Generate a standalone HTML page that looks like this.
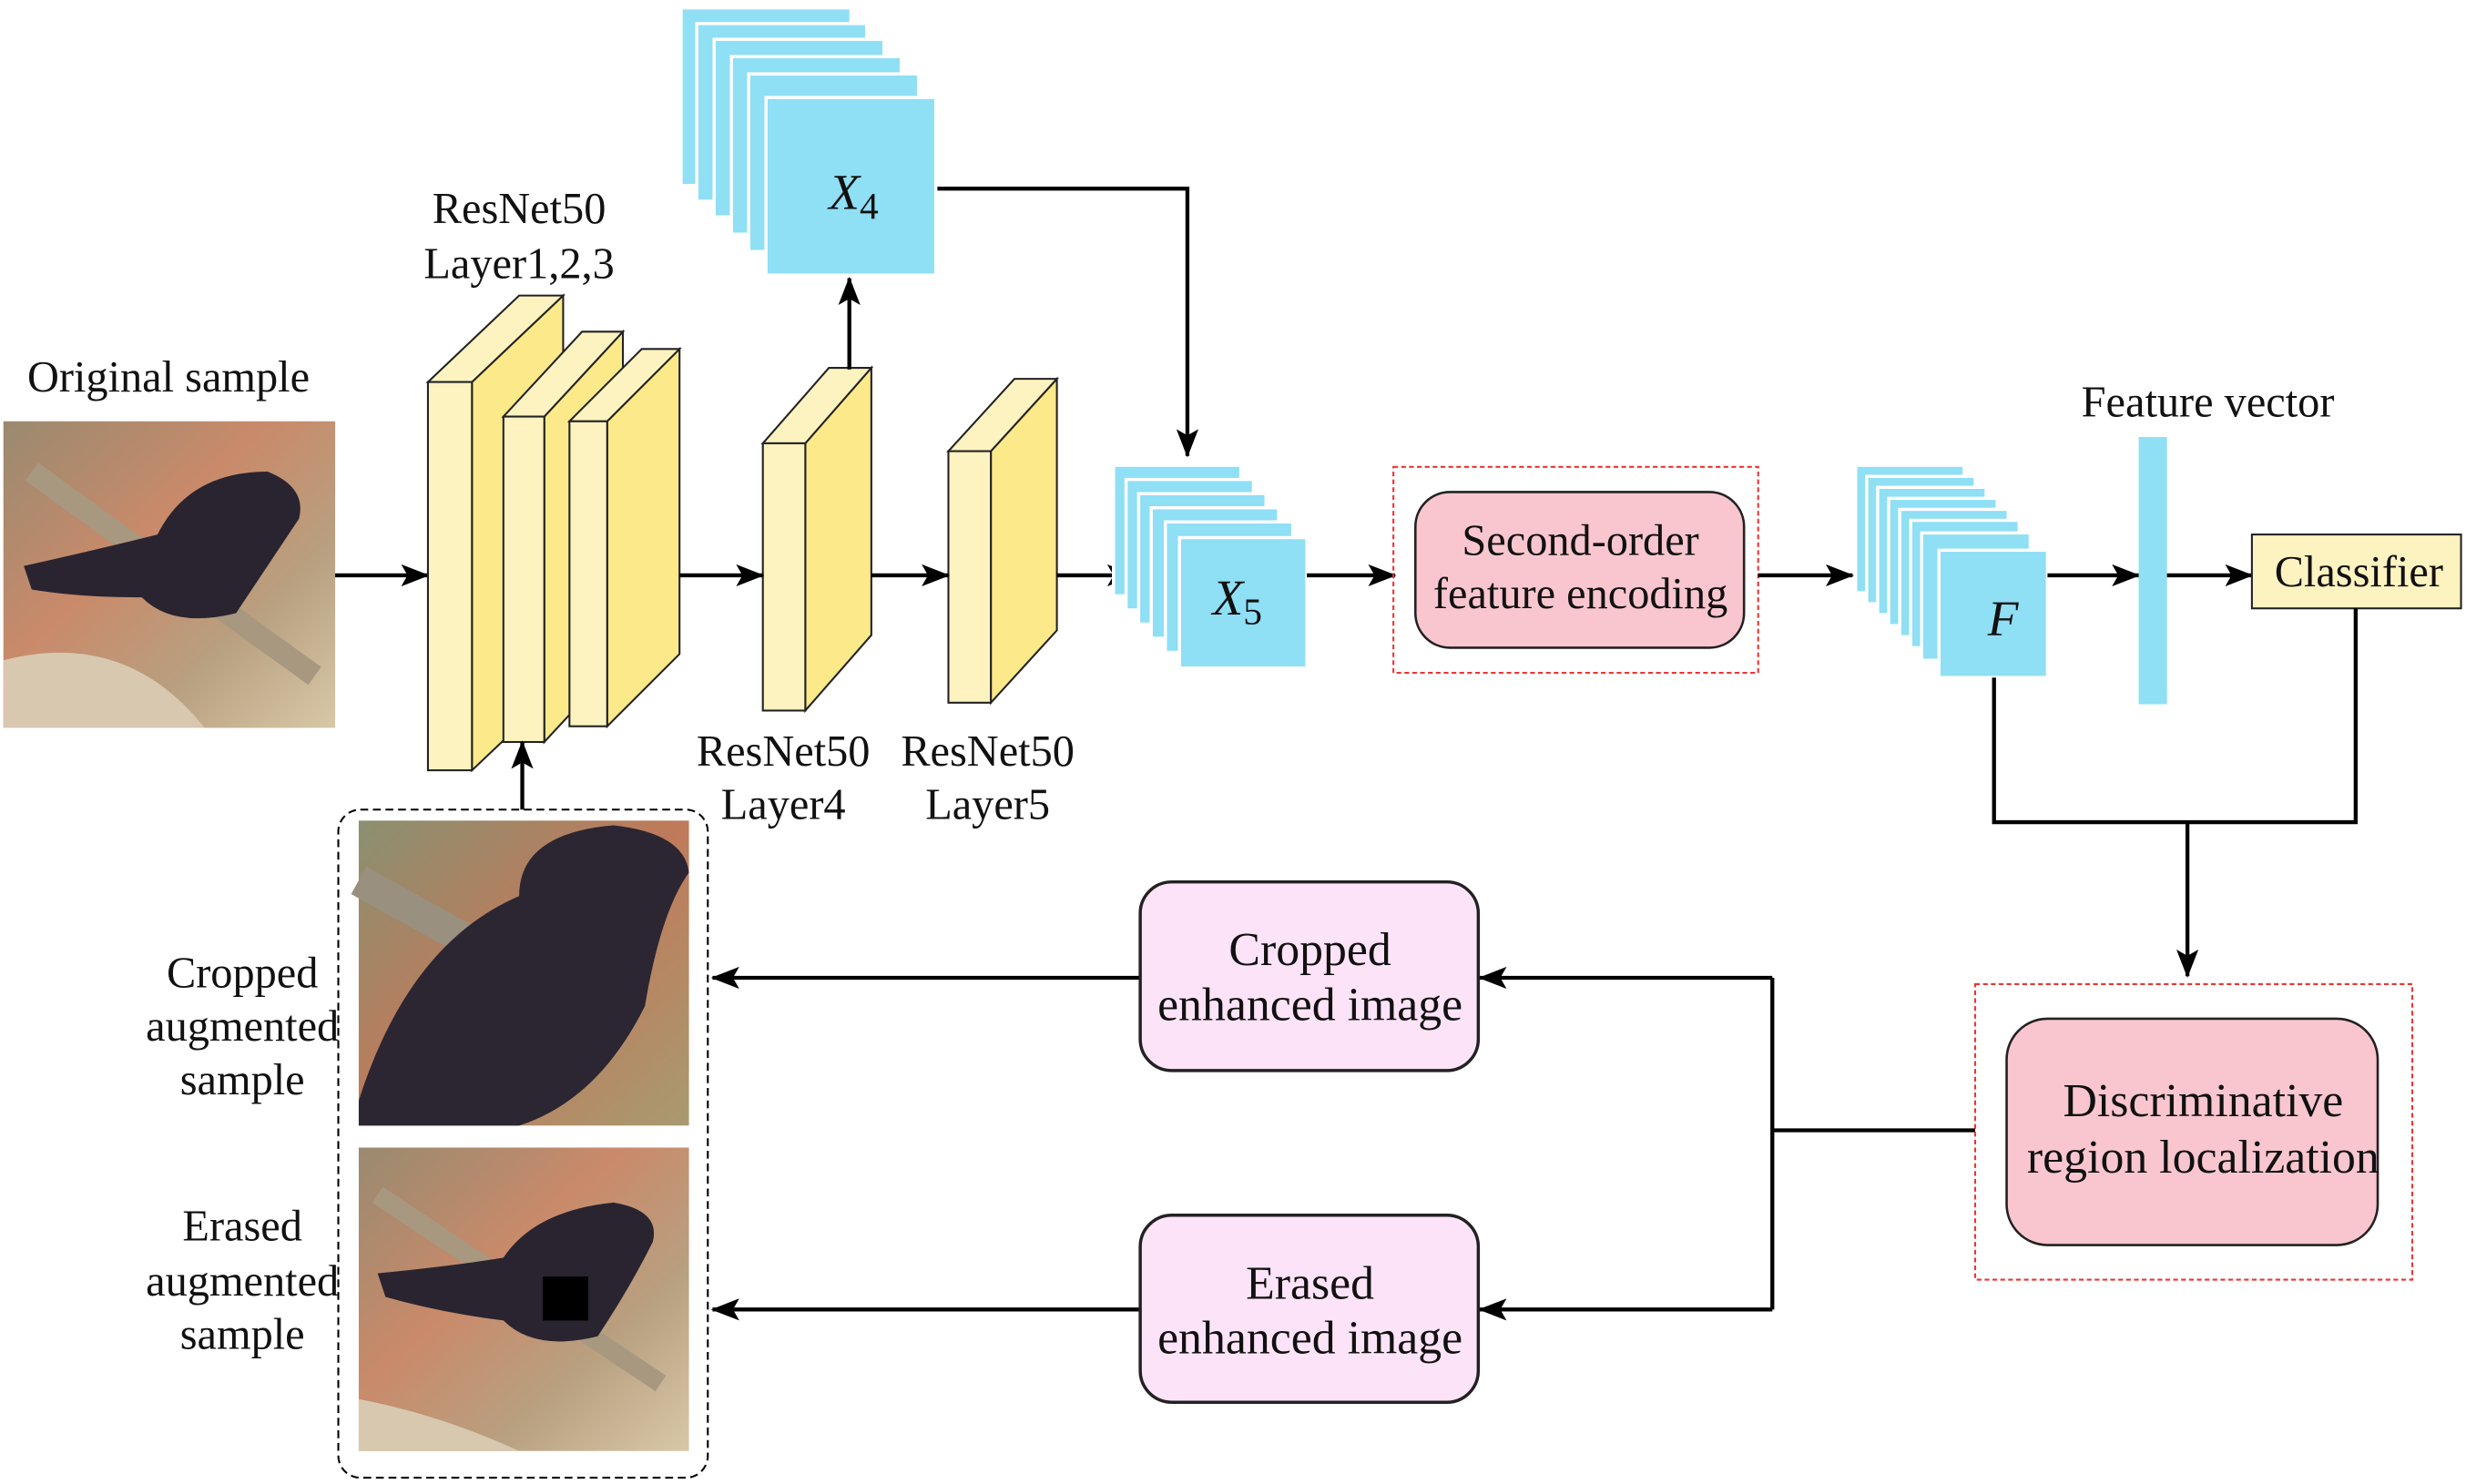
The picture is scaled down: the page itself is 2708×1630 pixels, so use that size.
<!DOCTYPE html>
<html><head><meta charset="utf-8"><style>
html,body{margin:0;padding:0;background:#fff;}
svg{display:block;}
text{font-family:"Liberation Serif",serif;font-size:28px;fill:#111;}
</style></head><body>
<svg width="2708" height="1630" viewBox="0 0 1568 944" xmlns="http://www.w3.org/2000/svg">
<defs>
<marker id="ah2" markerWidth="18" markerHeight="14" refX="17" refY="7" orient="auto" markerUnits="userSpaceOnUse"><path d="M0,0 L18,7 L0,14 L4,7 Z" fill="#000"/></marker>
<linearGradient id="bg1" x1="0" y1="0" x2="1" y2="1"><stop offset="0" stop-color="#9a8a70"/><stop offset="0.4" stop-color="#c98a6a"/><stop offset="0.7" stop-color="#b8a080"/><stop offset="1" stop-color="#d8c8a8"/></linearGradient>
<linearGradient id="bg2" x1="0" y1="0" x2="1" y2="1"><stop offset="0" stop-color="#8a9070"/><stop offset="0.5" stop-color="#c07a5a"/><stop offset="1" stop-color="#a89a70"/></linearGradient>
</defs>

<text x="107" y="249" text-anchor="middle">Original sample</text>
<rect x="2" y="268" width="211" height="195" fill="url(#bg1)"/>
<path d="M20,300 L200,430" stroke="#a89880" stroke-width="14"/>
<path d="M2,420 Q80,400 130,463 L2,463 Z" fill="#d8c8b0"/>
<path d="M15,360 Q60,350 100,340 Q120,300 170,300 Q195,310 190,330 Q170,360 150,390 Q110,400 90,380 Q50,380 20,375 Z" fill="#2a2430"/>

<line x1="213" y1="366" x2="272" y2="366" stroke="#000" stroke-width="2.5" marker-end="url(#ah2)"/>

<g stroke="#222" stroke-width="1.2">
<polygon points="300,243 358,188 358,435 300,490" fill="#fbe98a"/>
<polygon points="272,243 330,188 358,188 300,243" fill="#fdf3c0"/>
<rect x="272" y="243" width="28" height="247" fill="#fdf3c0"/>
<polygon points="346,265 396,211 396,418 346,472" fill="#fbe98a"/>
<polygon points="320,265 370,211 396,211 346,265" fill="#fdf3c0"/>
<rect x="320" y="265" width="26" height="207" fill="#fdf3c0"/>
<polygon points="386,268 432,222 432,416 386,462" fill="#fbe98a"/>
<polygon points="362,268 408,222 432,222 386,268" fill="#fdf3c0"/>
<rect x="362" y="268" width="24" height="194" fill="#fdf3c0"/>
<polygon points="512,282 554,234 554,404 512,452" fill="#fbe98a"/>
<polygon points="485,282 527,234 554,234 512,282" fill="#fdf3c0"/>
<rect x="485" y="282" width="27" height="170" fill="#fdf3c0"/>
<polygon points="630,287 672,241 672,401 630,447" fill="#fbe98a"/>
<polygon points="603,287 645,241 672,241 630,287" fill="#fdf3c0"/>
<rect x="603" y="287" width="27" height="160" fill="#fdf3c0"/>
</g>
<text x="330" y="142" text-anchor="middle">ResNet50</text>
<text x="330" y="177" text-anchor="middle">Layer1,2,3</text>
<text x="498" y="487" text-anchor="middle">ResNet50</text>
<text x="498" y="521" text-anchor="middle">Layer4</text>
<text x="628" y="487" text-anchor="middle">ResNet50</text>
<text x="628" y="521" text-anchor="middle">Layer5</text>

<g stroke="#000" stroke-width="2.5" fill="none">
<line x1="432" y1="366" x2="485" y2="366" marker-end="url(#ah2)"/>
<line x1="554" y1="366" x2="603" y2="366" marker-end="url(#ah2)"/>
<line x1="672" y1="366" x2="721" y2="366" marker-end="url(#ah2)"/>
<line x1="540" y1="235" x2="540" y2="177" marker-end="url(#ah2)"/>
<polyline points="595,120 755,120 755,290" marker-end="url(#ah2)"/>
</g>

<g fill="#8fdff5" stroke="#fff" stroke-width="2">
<rect x="433" y="5" width="108" height="113"/>
<rect x="443" y="15" width="108" height="113"/>
<rect x="454" y="25" width="108" height="113"/>
<rect x="465" y="36" width="108" height="113"/>
<rect x="476" y="47" width="108" height="113"/>
<rect x="487" y="62" width="108" height="113"/>
</g>
<text x="527" y="133" font-style="italic" style="font-size:32px">X<tspan font-style="normal" style="font-size:24px" dy="6">4</tspan></text>

<g fill="#8fdff5" stroke="#fff" stroke-width="2">
<rect x="708" y="296" width="81" height="83"/>
<rect x="716" y="305" width="81" height="83"/>
<rect x="724" y="314" width="81" height="83"/>
<rect x="732" y="323" width="81" height="83"/>
<rect x="741" y="332" width="81" height="83"/>
<rect x="750" y="342" width="81" height="83"/>
</g>
<text x="771" y="391" font-style="italic" style="font-size:32px">X<tspan font-style="normal" style="font-size:24px" dy="6">5</tspan></text>

<line x1="831" y1="366" x2="887" y2="366" stroke="#000" stroke-width="2.5" marker-end="url(#ah2)"/>
<rect x="886" y="297" width="232" height="131" fill="none" stroke="#e33" stroke-width="1.2" stroke-dasharray="3,2"/>
<rect x="900" y="313" width="209" height="99" rx="22" fill="#f9c6cf" stroke="#222" stroke-width="1.5"/>
<text x="1005" y="353" text-anchor="middle">Second-order</text>
<text x="1005" y="387" text-anchor="middle">feature encoding</text>
<line x1="1118" y1="366" x2="1178" y2="366" stroke="#000" stroke-width="2.5" marker-end="url(#ah2)"/>

<g fill="#8fdff5" stroke="#fff" stroke-width="2">
<rect x="1180" y="296" width="69" height="81"/>
<rect x="1187" y="303" width="69" height="81"/>
<rect x="1194" y="310" width="69" height="81"/>
<rect x="1201" y="317" width="69" height="81"/>
<rect x="1208" y="324" width="69" height="81"/>
<rect x="1215" y="331" width="69" height="81"/>
<rect x="1222" y="339" width="69" height="81"/>
<rect x="1233" y="350" width="69" height="81"/>
</g>
<text x="1264" y="404" font-style="italic" style="font-size:32px">F</text>

<line x1="1302" y1="366" x2="1360" y2="366" stroke="#000" stroke-width="2.5" marker-end="url(#ah2)"/>
<rect x="1360" y="278" width="18" height="170" fill="#8fdff5"/>
<text x="1404" y="265" text-anchor="middle">Feature vector</text>
<line x1="1378" y1="366" x2="1432" y2="366" stroke="#000" stroke-width="2.5" marker-end="url(#ah2)"/>
<rect x="1432" y="340" width="133" height="47" fill="#fdf3c0" stroke="#222" stroke-width="1.2"/>
<text x="1500" y="373" text-anchor="middle">Classifier</text>

<g stroke="#000" stroke-width="2.5" fill="none">
<polyline points="1268,431 1268,523 1498,523 1498,387"/>
<line x1="1391" y1="523" x2="1391" y2="621" marker-end="url(#ah2)"/>
<polyline points="1256,719 1127,719"/>
<line x1="1127" y1="622" x2="1127" y2="833"/>
<line x1="1127" y1="622" x2="941" y2="622" marker-end="url(#ah2)"/>
<line x1="1127" y1="833" x2="941" y2="833" marker-end="url(#ah2)"/>
<line x1="725" y1="622" x2="453" y2="622" marker-end="url(#ah2)"/>
<line x1="725" y1="833" x2="453" y2="833" marker-end="url(#ah2)"/>
<line x1="332" y1="515" x2="332" y2="472" marker-end="url(#ah2)"/>
</g>

<rect x="1256" y="626" width="278" height="188" fill="none" stroke="#e33" stroke-width="1.2" stroke-dasharray="3,2"/>
<rect x="1276" y="648" width="236" height="144" rx="26" fill="#f9c6cf" stroke="#222" stroke-width="1.5"/>
<text x="1401" y="710" text-anchor="middle" style="font-size:30px">Discriminative</text>
<text x="1401" y="746" text-anchor="middle" style="font-size:30px">region localization</text>

<rect x="725" y="561" width="215" height="120" rx="20" fill="#fde3f7" stroke="#222" stroke-width="2"/>
<text x="833" y="614" text-anchor="middle" style="font-size:30px">Cropped</text>
<text x="833" y="649" text-anchor="middle" style="font-size:30px">enhanced image</text>
<rect x="725" y="773" width="215" height="119" rx="20" fill="#fde3f7" stroke="#222" stroke-width="2"/>
<text x="833" y="826" text-anchor="middle" style="font-size:30px">Erased</text>
<text x="833" y="861" text-anchor="middle" style="font-size:30px">enhanced image</text>

<rect x="215" y="515" width="235" height="425" rx="14" fill="none" stroke="#000" stroke-width="1.2" stroke-dasharray="5,3"/>
<rect x="228" y="522" width="210" height="194" fill="url(#bg2)"/>
<path d="M228,560 L300,600" stroke="#9a9080" stroke-width="20"/>
<path d="M228,700 Q260,600 330,570 Q330,530 390,525 Q435,530 438,555 Q420,580 410,640 Q380,700 330,716 L228,716 Z" fill="#2c2632"/>
<rect x="228" y="730" width="210" height="193" fill="url(#bg1)"/>
<path d="M240,760 L420,880" stroke="#a89880" stroke-width="12"/>
<path d="M228,890 Q280,900 330,923 L228,923 Z" fill="#d8c8b0"/>
<path d="M240,810 Q290,805 320,800 Q340,770 390,765 Q420,770 415,790 Q400,820 380,850 Q340,860 320,840 Q280,835 245,825 Z" fill="#2a2430"/>
<rect x="345" y="812" width="29" height="28" fill="#000"/>

<text x="154" y="628" text-anchor="middle">Cropped</text>
<text x="154" y="662" text-anchor="middle">augmented</text>
<text x="154" y="696" text-anchor="middle">sample</text>
<text x="154" y="789" text-anchor="middle">Erased</text>
<text x="154" y="824" text-anchor="middle">augmented</text>
<text x="154" y="858" text-anchor="middle">sample</text>
</svg>
</body></html>
